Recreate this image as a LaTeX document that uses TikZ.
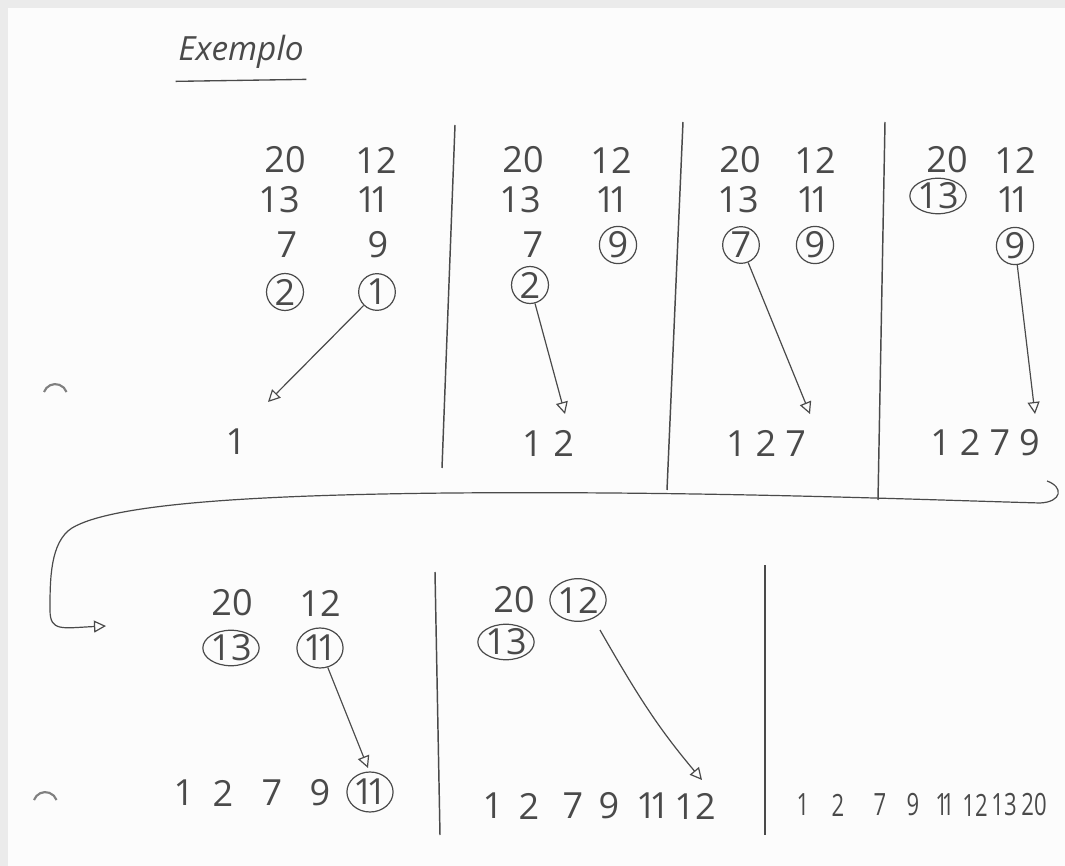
\documentclass[tikz,border=0pt]{standalone}
\usepackage{fontspec}
\setmainfont{Open Sans}
\newfontfamily\narrowfont[FakeStretch=0.72]{Open Sans}
\usetikzlibrary{arrows.meta,shapes.geometric,calc}
\definecolor{ink}{HTML}{4A4A4A}
\definecolor{paper}{HTML}{FCFCFC}
\definecolor{edge}{HTML}{EBEBEB}
\newcommand{\bigd}{\fontsize{27}{29}\selectfont}
\newcommand{\smalld}{\narrowfont\fontsize{23}{25}\selectfont}
\newcommand{\elv}{1\kern-0.2em1}
\begin{document}
\begin{tikzpicture}[x=0.75pt,y=-0.75pt,
  num/.style={font=\bigd, text=ink, inner sep=1pt},
  snum/.style={font=\smalld, text=ink, inner sep=1pt},
  circ/.style={num, draw=ink, line width=0.9pt, circle, inner sep=1pt},
  oval/.style={num, draw=ink, line width=0.9pt, ellipse, inner sep=-0.5pt},
  arr/.style={draw=ink, line width=0.9pt, -{Triangle[open,length=9pt,width=9pt]}},
  sepline/.style={draw=ink, line width=1.1pt},
  hole/.style={draw=ink!70, line width=1.6pt}]
\useasboundingbox (0,0) rectangle (1065,866);
\fill[edge] (0,0) rectangle (1065,866);
\fill[paper] (8,8) rectangle (1065,866);

% title
\node[font=\fontsize{25}{27}\selectfont\itshape, text=ink] (title) at (241,52) {Exemplo};
\draw[ink, line width=1pt] ($(title.south west)+(2,8)$) coordinate (ul1) -- ($(title.south east)+(-2,6)$) coordinate (ul2);

% punch holes
\draw[hole] (44,392) arc (-160:-20:12);
\draw[hole] (34,800) arc (-160:-20:12);

% separators, top row
\coordinate (s1t) at (455,125); \coordinate (s1b) at (442,468);
\coordinate (s2t) at (683,122); \coordinate (s2b) at (667,490);
\coordinate (s3t) at (885,122); \coordinate (s3b) at (878,500);
\draw[sepline] (s1t) -- (s1b);
\draw[sepline] (s2t) -- (s2b);
\draw[sepline] (s3t) -- (s3b);

% panel 1
\node[num] (a20) at (285,160) {20};
\node[num] (a12) at (376,160) {12};
\node[num] (a13) at (279,200) {13};
\node[num] (a11) at (373,200) {\elv};
\node[num] (a7)  at (287,245) {7};
\node[num] (a9)  at (378,245) {9};
\node[circ] (a2) at (285,292) {2};
\node[circ] (a1) at (377,292) {1};
\coordinate (a1tip) at (268,402);
\draw[arr] (a1) -- (a1tip);
\node[num] (r1) at (236,442) {1};

% panel 2
\node[num] (b20) at (523,160) {20};
\node[num] (b12) at (611,160) {12};
\node[num] (b13) at (520,200) {13};
\node[num] (b11) at (612,200) {\elv};
\node[num] (b7)  at (533,245) {7};
\node[circ] (b9) at (618,245) {9};
\node[circ] (b2) at (530,285) {2};
\node[num] (r2) at (548,443) {1\hspace{0.3em}2};
\coordinate (b2tip) at (565,414);
\draw[arr] (b2) -- (b2tip);

% panel 3
\node[num] (c20) at (740,160) {20};
\node[num] (c12) at (815,160) {12};
\node[num] (c13) at (738,200) {13};
\node[num] (c11) at (813,200) {\elv};
\node[circ] (c7) at (741,245) {7};
\node[circ] (c9) at (815,245) {9};
\node[num] (r3) at (766,443) {1\hspace{0.25em}2\hspace{0.25em}7};
\coordinate (c7tip) at (810,414);
\draw[arr] (c7) -- (c7tip);

% panel 4
\node[num] (d20) at (947,160) {20};
\node[num] (d12) at (1015,160) {12};
\node[oval] (d13) at (938,196) {13};
\node[num] (d11) at (1013,200) {\elv};
\node[circ] (d9) at (1015,246) {9};
\node[num] (r4) at (985,443) {1\hspace{0.25em}2\hspace{0.25em}7\hspace{0.25em}9};
\coordinate (d9tip) at (1035,414);
\draw[arr] (d9) -- (d9tip);

% long wrap-around connector
\coordinate (wstart) at (1047,481);
\coordinate (wend) at (106,626);
\draw[arr] (wstart) .. controls (1064,487) and (1062,502) .. (1040,503)
  .. controls (900,499) and (700,491) .. (450,493)
  .. controls (250,495) and (112,504) .. (72,528)
  .. controls (50,542) and (50,580) .. (50,610)
  .. controls (50,632) and (62,628) .. (wend);

% separators, bottom row
\coordinate (s4t) at (435,572); \coordinate (s4b) at (440,835);
\coordinate (s5t) at (765,565); \coordinate (s5b) at (765,835);
\draw[sepline] (s4t) -- (s4b);
\draw[sepline] (s5t) -- (s5b);

% panel 5
\node[num] (e20) at (232,603) {20};
\node[num] (e12) at (320,603) {12};
\node[oval] (e13) at (231,648) {13};
\node[oval, minimum width=26pt, minimum height=30pt] (e11) at (320,648) {\elv};
\node[num] (e1) at (184,793) {1};
\node[num] (e2) at (223,793) {2};
\node[num] (e7) at (272,793) {7};
\node[num] (e9) at (320,793) {9};
\node[oval, minimum width=26pt, minimum height=30pt] (e11b) at (370,792) {\elv};
\coordinate (e11tip) at (368,768);
\draw[arr] (e11) -- (e11tip);

% panel 6
\node[num] (f20) at (514,600) {20};
\node[oval, minimum height=32pt] (f12) at (578,600) {12};
\node[oval] (f13) at (506,642) {13};
\node[num] (f1)  at (493,806) {1};
\node[num] (f2)  at (529,806) {2};
\node[num] (f7)  at (573,806) {7};
\node[num] (f9)  at (609,806) {9};
\node[num] (f11) at (653,806) {\elv};
\node[num] (f12b) at (695,806) {12};
\coordinate (f12tip) at (702,780);
\coordinate (f12start) at (600,630);
\draw[arr] (f12start) .. controls (640,700) and (660,730) .. (f12tip);

% panel 7
\node[snum] (g1)  at (803,805) {1};
\node[snum] (g2)  at (838,805) {2};
\node[snum] (g7)  at (880,805) {7};
\node[snum] (g9)  at (913,805) {9};
\node[snum] (g11) at (945,805) {\elv};
\node[snum] (g12) at (975,805) {12};
\node[snum] (g13) at (1004,805) {13};
\node[snum] (g20) at (1034,805) {20};
\end{tikzpicture}
\end{document}
